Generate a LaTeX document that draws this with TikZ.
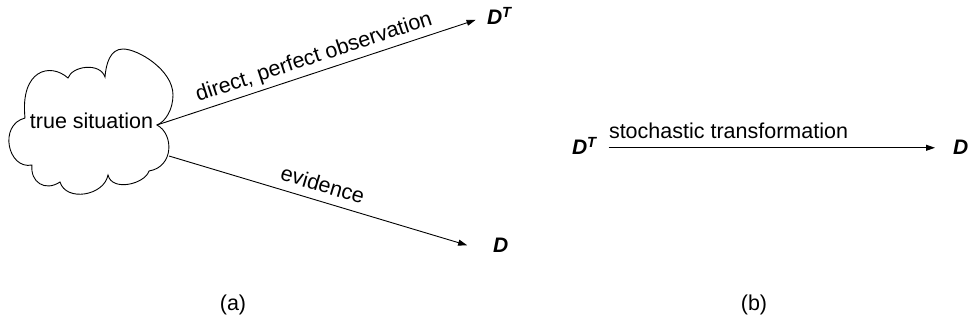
\documentclass[tikz,border=0pt]{standalone}
\usepackage{fontspec}
\setmainfont{Liberation Sans}
\usetikzlibrary{arrows.meta}
\begin{document}
\begin{tikzpicture}[x=1pt,y=1pt,
  every node/.style={font=\fontsize{21.5}{26}\selectfont},
  link/.style={line width=0.9pt,-{Triangle[length=9pt,width=6pt]}},
  sym/.style={font=\fontsize{21}{26}\selectfont\bfseries\itshape,inner sep=0pt,outer sep=0pt},
  lab/.style={inner sep=6.5pt,text depth=0.22em},
  cloudline/.style={line width=0.9pt}]
\useasboundingbox (0,0) rectangle (970,332);

% cloud around the true situation
\draw[cloudline] (25,214)
  .. controls (20,262) and (50,270) .. (68,254)
  .. controls (72,266) and (100,270) .. (105,255)
  .. controls (106,268) and (110,283) .. (123,283)
  .. controls (138,283) and (173,262) .. (173,237)
  .. controls (173,222) and (165,210) .. (157,207)
  .. controls (174,198) and (174,165) .. (149,161)
  .. controls (145,148) and (112,140) .. (108,157)
  .. controls (104,136) and (66,130) .. (60,150)
  .. controls (45,140) and (30,150) .. (32,167)
  .. controls (8,162) and (-2,207) .. (25,214) -- cycle;
\node[anchor=base] (ts) at (91.5,203) {true situation};
\coordinate (cNE) at (157,207);
\coordinate (cSE) at (169,176);

% part (a)
\node[sym,anchor=base west] (DTa) at (487,307) {D\textsuperscript{T}};
\node[sym,anchor=base west] (Da) at (493,79) {D};
\draw[link,shorten >=12pt] (cNE) -- node[lab,sloped,above,pos=0.49] {direct, perfect observation} (DTa.west);
\draw[link,shorten >=27pt] (cSE) -- node[lab,sloped,above,pos=0.46] {evidence} (Da.south west);

% part (b)
\node[sym,anchor=base west] (DTb) at (572,177) {D\textsuperscript{T}};
\node[sym,anchor=base west] (Db) at (953,177) {D};
\draw[link,shorten <=12pt,shorten >=18pt] (DTb.east |- Db.west) -- node[lab,above,pos=0.37] {stochastic transformation} (Db.west);

% captions
\node (capa) at (233,27) {(a)};
\node (capb) at (754,27) {(b)};
\end{tikzpicture}
\end{document}
